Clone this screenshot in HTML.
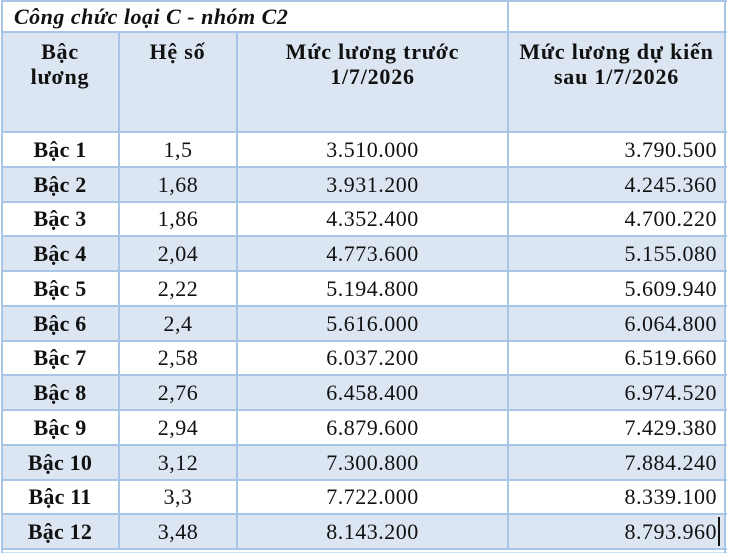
<!DOCTYPE html>
<html>
<head>
<meta charset="utf-8">
<style>
  html,body{margin:0;padding:0;background:#fff;}
  body{width:730px;height:553px;position:relative;overflow:hidden;
       font-family:"Liberation Serif","DejaVu Serif",serif;color:#111;}
  .bg{position:absolute;}
  .blue{background:#dce6f2;}
  .h{position:absolute;height:2px;background:#a9c5e6;}
  .v{position:absolute;width:2px;background:#a9c5e6;}
  .t{position:absolute;font-size:22px;letter-spacing:0.5px;white-space:nowrap;height:35px;line-height:35px;}
  .c{text-align:center;}
  .r{text-align:right;}
  .b{font-weight:bold;letter-spacing:0.2px;}
  .title{position:absolute;left:14px;top:1px;height:31px;line-height:31px;
         font-size:22px;font-weight:bold;font-style:italic;letter-spacing:0.5px;white-space:nowrap;}
  .hd{position:absolute;top:39px;font-size:22px;font-weight:bold;line-height:25px;
      text-align:center;letter-spacing:0.8px;white-space:nowrap;}
</style>
</head>
<body>
<!-- header background -->
<div class="bg blue" style="left:2px;top:32px;width:723px;height:100px;"></div>
<!-- even row backgrounds -->
<div class="bg blue" style="left:2px;top:167px;width:723px;height:35px;"></div>
<div class="bg blue" style="left:2px;top:236px;width:723px;height:35px;"></div>
<div class="bg blue" style="left:2px;top:306px;width:723px;height:35px;"></div>
<div class="bg blue" style="left:2px;top:375px;width:723px;height:35px;"></div>
<div class="bg blue" style="left:2px;top:445px;width:723px;height:35px;"></div>
<div class="bg blue" style="left:2px;top:514px;width:723px;height:35px;"></div>

<!-- horizontal lines -->
<div class="h" style="left:1px;top:0px;width:726px;"></div>
<div class="h" style="left:1px;top:31px;width:726px;"></div>
<div class="h" style="left:1px;top:131px;width:726px;"></div>
<div class="h" style="left:1px;top:166px;width:726px;"></div>
<div class="h" style="left:1px;top:201px;width:726px;"></div>
<div class="h" style="left:1px;top:235px;width:726px;"></div>
<div class="h" style="left:1px;top:270px;width:726px;"></div>
<div class="h" style="left:1px;top:305px;width:726px;"></div>
<div class="h" style="left:1px;top:340px;width:726px;"></div>
<div class="h" style="left:1px;top:374px;width:726px;"></div>
<div class="h" style="left:1px;top:409px;width:726px;"></div>
<div class="h" style="left:1px;top:444px;width:726px;"></div>
<div class="h" style="left:1px;top:479px;width:726px;"></div>
<div class="h" style="left:1px;top:513px;width:726px;"></div>
<div class="h" style="left:1px;top:548px;width:726px;"></div>
<div class="h" style="left:1px;top:552px;width:726px;height:1px;opacity:0.6;"></div>

<!-- vertical lines -->
<div class="v" style="left:1px;top:0;height:553px;"></div>
<div class="v" style="left:118px;top:32px;height:517px;"></div>
<div class="v" style="left:236px;top:32px;height:517px;"></div>
<div class="v" style="left:507px;top:0;height:549px;"></div>
<div class="v" style="left:724px;top:0;height:553px;"></div>

<!-- title -->
<div class="title">Công chức loại C - nhóm C2</div>

<!-- headers -->
<div class="hd" style="left:2px;width:116px;">Bậc<br>lương</div>
<div class="hd" style="left:119px;width:117px;">Hệ số</div>
<div class="hd" style="left:238px;width:269px;">Mức lương trước<br>1/7/2026</div>
<div class="hd" style="left:509px;width:215px;">Mức lương dự kiến<br>sau 1/7/2026</div>

<!-- rows -->
<div class="t b c" style="left:2px;width:116px;top:132px;">Bậc 1</div>
<div class="t c" style="left:120px;width:116px;top:132px;">1,5</div>
<div class="t c" style="left:238px;width:269px;top:132px;">3.510.000</div>
<div class="t r" style="left:509px;width:208px;top:132px;">3.790.500</div>

<div class="t b c" style="left:2px;width:116px;top:167px;">Bậc 2</div>
<div class="t c" style="left:120px;width:116px;top:167px;">1,68</div>
<div class="t c" style="left:238px;width:269px;top:167px;">3.931.200</div>
<div class="t r" style="left:509px;width:208px;top:167px;">4.245.360</div>

<div class="t b c" style="left:2px;width:116px;top:201px;">Bậc 3</div>
<div class="t c" style="left:120px;width:116px;top:201px;">1,86</div>
<div class="t c" style="left:238px;width:269px;top:201px;">4.352.400</div>
<div class="t r" style="left:509px;width:208px;top:201px;">4.700.220</div>

<div class="t b c" style="left:2px;width:116px;top:236px;">Bậc 4</div>
<div class="t c" style="left:120px;width:116px;top:236px;">2,04</div>
<div class="t c" style="left:238px;width:269px;top:236px;">4.773.600</div>
<div class="t r" style="left:509px;width:208px;top:236px;">5.155.080</div>

<div class="t b c" style="left:2px;width:116px;top:271px;">Bậc 5</div>
<div class="t c" style="left:120px;width:116px;top:271px;">2,22</div>
<div class="t c" style="left:238px;width:269px;top:271px;">5.194.800</div>
<div class="t r" style="left:509px;width:208px;top:271px;">5.609.940</div>

<div class="t b c" style="left:2px;width:116px;top:306px;">Bậc 6</div>
<div class="t c" style="left:120px;width:116px;top:306px;">2,4</div>
<div class="t c" style="left:238px;width:269px;top:306px;">5.616.000</div>
<div class="t r" style="left:509px;width:208px;top:306px;">6.064.800</div>

<div class="t b c" style="left:2px;width:116px;top:340px;">Bậc 7</div>
<div class="t c" style="left:120px;width:116px;top:340px;">2,58</div>
<div class="t c" style="left:238px;width:269px;top:340px;">6.037.200</div>
<div class="t r" style="left:509px;width:208px;top:340px;">6.519.660</div>

<div class="t b c" style="left:2px;width:116px;top:375px;">Bậc 8</div>
<div class="t c" style="left:120px;width:116px;top:375px;">2,76</div>
<div class="t c" style="left:238px;width:269px;top:375px;">6.458.400</div>
<div class="t r" style="left:509px;width:208px;top:375px;">6.974.520</div>

<div class="t b c" style="left:2px;width:116px;top:410px;">Bậc 9</div>
<div class="t c" style="left:120px;width:116px;top:410px;">2,94</div>
<div class="t c" style="left:238px;width:269px;top:410px;">6.879.600</div>
<div class="t r" style="left:509px;width:208px;top:410px;">7.429.380</div>

<div class="t b c" style="left:2px;width:116px;top:445px;">Bậc 10</div>
<div class="t c" style="left:120px;width:116px;top:445px;">3,12</div>
<div class="t c" style="left:238px;width:269px;top:445px;">7.300.800</div>
<div class="t r" style="left:509px;width:208px;top:445px;">7.884.240</div>

<div class="t b c" style="left:2px;width:116px;top:479px;">Bậc 11</div>
<div class="t c" style="left:120px;width:116px;top:479px;">3,3</div>
<div class="t c" style="left:238px;width:269px;top:479px;">7.722.000</div>
<div class="t r" style="left:509px;width:208px;top:479px;">8.339.100</div>

<div class="t b c" style="left:2px;width:116px;top:514px;">Bậc 12</div>
<div class="t c" style="left:120px;width:116px;top:514px;">3,48</div>
<div class="t c" style="left:238px;width:269px;top:514px;">8.143.200</div>
<div class="t r" style="left:509px;width:208px;top:514px;">8.793.960</div>

<!-- text cursor -->
<div style="position:absolute;left:718px;top:517px;width:2px;height:29px;background:#111;"></div>
</body>
</html>
